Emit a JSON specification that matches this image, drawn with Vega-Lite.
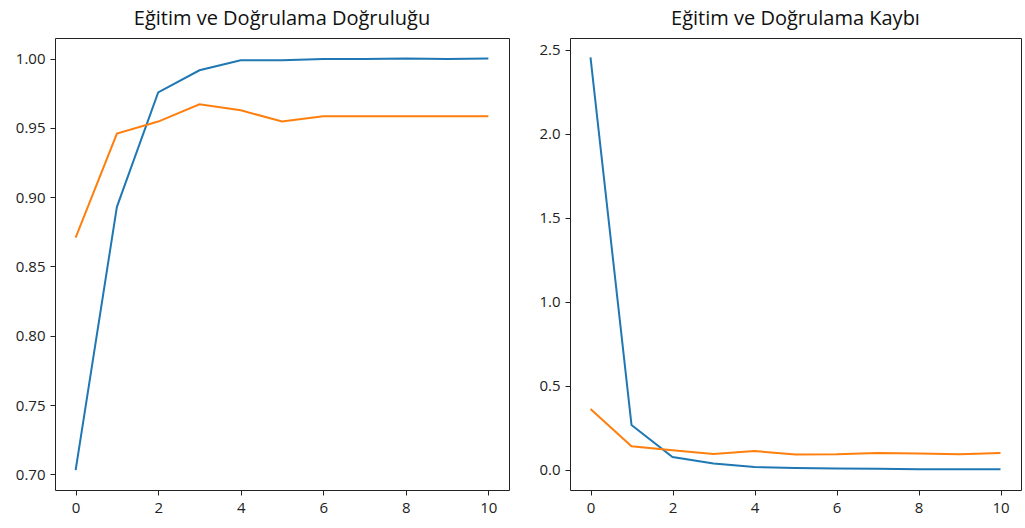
{
  "$schema": "https://vega.github.io/schema/vega-lite/v6.json",
  "background": "white",
  "padding": {"left": 14, "top": 8, "right": 2, "bottom": 3},
  "spacing": 28,
  "datasets": {
    "acc": [
      {"epoch": 0, "value": 0.703, "series": "train"},
      {"epoch": 1, "value": 0.893, "series": "train"},
      {"epoch": 2, "value": 0.9755, "series": "train"},
      {"epoch": 3, "value": 0.9915, "series": "train"},
      {"epoch": 4, "value": 0.9987, "series": "train"},
      {"epoch": 5, "value": 0.9987, "series": "train"},
      {"epoch": 6, "value": 0.9996, "series": "train"},
      {"epoch": 7, "value": 0.9996, "series": "train"},
      {"epoch": 8, "value": 1.0, "series": "train"},
      {"epoch": 9, "value": 0.9996, "series": "train"},
      {"epoch": 10, "value": 1.0, "series": "train"},
      {"epoch": 0, "value": 0.8707, "series": "val"},
      {"epoch": 1, "value": 0.9458, "series": "val"},
      {"epoch": 2, "value": 0.9545, "series": "val"},
      {"epoch": 3, "value": 0.967, "series": "val"},
      {"epoch": 4, "value": 0.9627, "series": "val"},
      {"epoch": 5, "value": 0.9545, "series": "val"},
      {"epoch": 6, "value": 0.9584, "series": "val"},
      {"epoch": 7, "value": 0.9584, "series": "val"},
      {"epoch": 8, "value": 0.9584, "series": "val"},
      {"epoch": 9, "value": 0.9584, "series": "val"},
      {"epoch": 10, "value": 0.9584, "series": "val"}
    ],
    "loss": [
      {"epoch": 0, "value": 2.455, "series": "train"},
      {"epoch": 1, "value": 0.268, "series": "train"},
      {"epoch": 2, "value": 0.077, "series": "train"},
      {"epoch": 3, "value": 0.038, "series": "train"},
      {"epoch": 4, "value": 0.018, "series": "train"},
      {"epoch": 5, "value": 0.012, "series": "train"},
      {"epoch": 6, "value": 0.009, "series": "train"},
      {"epoch": 7, "value": 0.007, "series": "train"},
      {"epoch": 8, "value": 0.005, "series": "train"},
      {"epoch": 9, "value": 0.004, "series": "train"},
      {"epoch": 10, "value": 0.004, "series": "train"},
      {"epoch": 0, "value": 0.363, "series": "val"},
      {"epoch": 1, "value": 0.141, "series": "val"},
      {"epoch": 2, "value": 0.117, "series": "val"},
      {"epoch": 3, "value": 0.095, "series": "val"},
      {"epoch": 4, "value": 0.113, "series": "val"},
      {"epoch": 5, "value": 0.092, "series": "val"},
      {"epoch": 6, "value": 0.093, "series": "val"},
      {"epoch": 7, "value": 0.101, "series": "val"},
      {"epoch": 8, "value": 0.098, "series": "val"},
      {"epoch": 9, "value": 0.093, "series": "val"},
      {"epoch": 10, "value": 0.101, "series": "val"}
    ]
  },
  "hconcat": [
    {
      "width": 454,
      "height": 452,
      "title": "Eğitim ve Doğrulama Doğruluğu",
      "data": {"name": "acc"},
      "mark": {"type": "line", "strokeWidth": 2},
      "encoding": {
        "x": {"field": "epoch", "type": "quantitative", "title": null,
              "scale": {"domain": [-0.5, 10.5], "nice": false, "zero": false},
              "axis": {"values": [0, 2, 4, 6, 8, 10]}},
        "y": {"field": "value", "type": "quantitative", "title": null,
              "scale": {"domain": [0.6887, 1.0148], "nice": false, "zero": false},
              "axis": {"values": [0.7, 0.75, 0.8, 0.85, 0.9, 0.95, 1.0], "format": ".2f"}},
        "color": {"field": "series", "type": "nominal", "legend": null,
                  "scale": {"domain": ["train", "val"], "range": ["#1f77b4", "#ff7f0e"]}}
      }
    },
    {
      "width": 451,
      "height": 452,
      "title": "Eğitim ve Doğrulama Kaybı",
      "data": {"name": "loss"},
      "mark": {"type": "line", "strokeWidth": 2},
      "encoding": {
        "x": {"field": "epoch", "type": "quantitative", "title": null,
              "scale": {"domain": [-0.5, 10.5], "nice": false, "zero": false},
              "axis": {"values": [0, 2, 4, 6, 8, 10]}},
        "y": {"field": "value", "type": "quantitative", "title": null,
              "scale": {"domain": [-0.119, 2.57], "nice": false, "zero": false},
              "axis": {"values": [0, 0.5, 1.0, 1.5, 2.0, 2.5], "format": ".1f"}},
        "color": {"field": "series", "type": "nominal", "legend": null,
                  "scale": {"domain": ["train", "val"], "range": ["#1f77b4", "#ff7f0e"]}}
      }
    }
  ],
  "config": {
    "font": "Open Sans",
    "view": {"stroke": "#222", "strokeWidth": 1},
    "axis": {
      "grid": false,
      "domain": false,
      "tickColor": "#222",
      "tickSize": 5,
      "labelFontSize": 15,
      "labelColor": "#222",
      "labelPadding": 5,
      "labelFont": "Open Sans"
    },
    "title": {"fontSize": 20, "fontWeight": "normal", "color": "#111", "offset": 9, "font": "Open Sans", "anchor": "middle"}
  }
}
